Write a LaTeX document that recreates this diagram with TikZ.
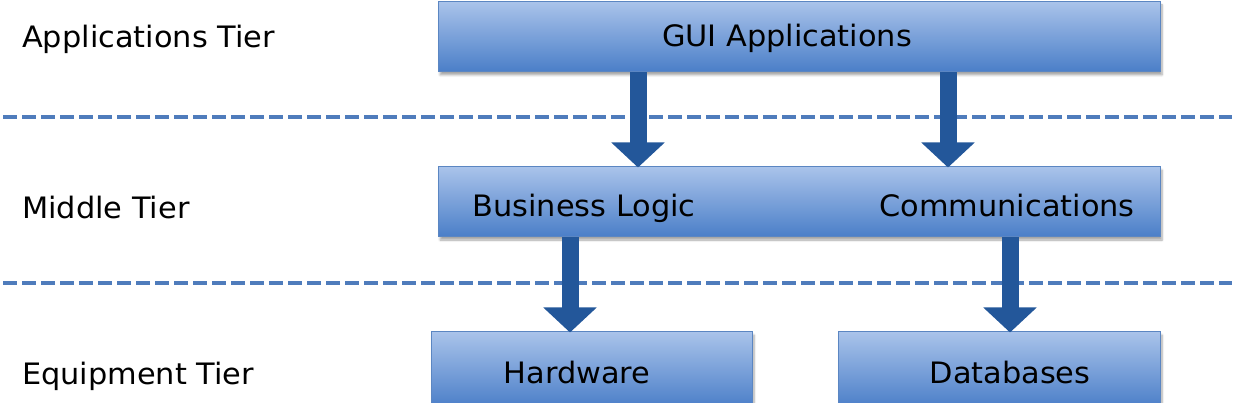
\documentclass[tikz,border=0pt]{standalone}
\usepackage{fontspec}
\setmainfont{DejaVu Sans}[FakeStretch=1.03]
\usetikzlibrary{arrows.meta,shadows.blur}
\definecolor{boxtop}{HTML}{A9C3EA}
\definecolor{boxbot}{HTML}{4A7EC8}
\definecolor{boxline}{HTML}{5B86C2}
\definecolor{arrcol}{HTML}{23579A}
\definecolor{dashcol}{HTML}{4F7CBC}
\tikzset{
  tierbox/.style={draw=boxline, line width=1pt, top color=boxtop, bottom color=boxbot,
    inner sep=0pt, blur shadow={shadow xshift=2pt, shadow yshift=-3pt, shadow opacity=35, shadow blur steps=6}},
  txt/.style={font=\fontsize{29.5}{32}\selectfont, text=black, inner sep=0pt, anchor=base},
  tierlabel/.style={txt, anchor=base west},
  bigarrow/.style={draw=arrcol, line width=17pt, -{Triangle[width=52pt,length=25pt]}, shorten >=-1pt},
  tierline/.style={draw=dashcol, line width=4.5pt, dash pattern=on 14pt off 5pt}
}
\begin{document}
\begin{tikzpicture}[x=1pt,y=-1pt]
\useasboundingbox (0,0) rectangle (1237,403);
\begin{scope}
\clip (0,0) rectangle (1237,403);
% dashed separators
\coordinate (d1a) at (3,117);
\coordinate (d1b) at (1232,117);
\coordinate (d2a) at (3,283);
\coordinate (d2b) at (1232,283);
\draw[tierline] (d1a) -- (d1b);
\draw[tierline] (d2a) -- (d2b);
% boxes
\node[tierbox, minimum width=722pt, minimum height=70pt] (gui) at (799,37) {};
\node[tierbox, minimum width=722pt, minimum height=70pt] (mid) at (799,202) {};
\node[tierbox, minimum width=321pt, minimum height=76pt] (hw) at (591.5,370) {};
\node[tierbox, minimum width=322pt, minimum height=76pt] (db) at (999,370) {};
% texts
\node[txt] (guit) at (787,47) {GUI Applications};
\node[txt] (blt) at (584,217) {Business Logic};
\node[txt] (comt) at (1007,217) {Communications};
\node[txt] (hwt) at (577,383) {Hardware};
\node[txt] (dbt) at (1010,383) {Databases};
\node[tierlabel] (l1) at (22,48) {Applications Tier};
\node[tierlabel] (l2) at (22,219) {Middle Tier};
\node[tierlabel] (l3) at (22,384) {Equipment Tier};
% arrows
\draw[bigarrow] (gui.south -| 638,0) -- (mid.north -| 638,0);
\draw[bigarrow] (gui.south -| 948,0) -- (mid.north -| 948,0);
\draw[bigarrow] (mid.south -| 570,0) -- (hw.north -| 570,0);
\draw[bigarrow] (mid.south -| 1010,0) -- (db.north -| 1010,0);
\end{scope}
\end{tikzpicture}
\end{document}
